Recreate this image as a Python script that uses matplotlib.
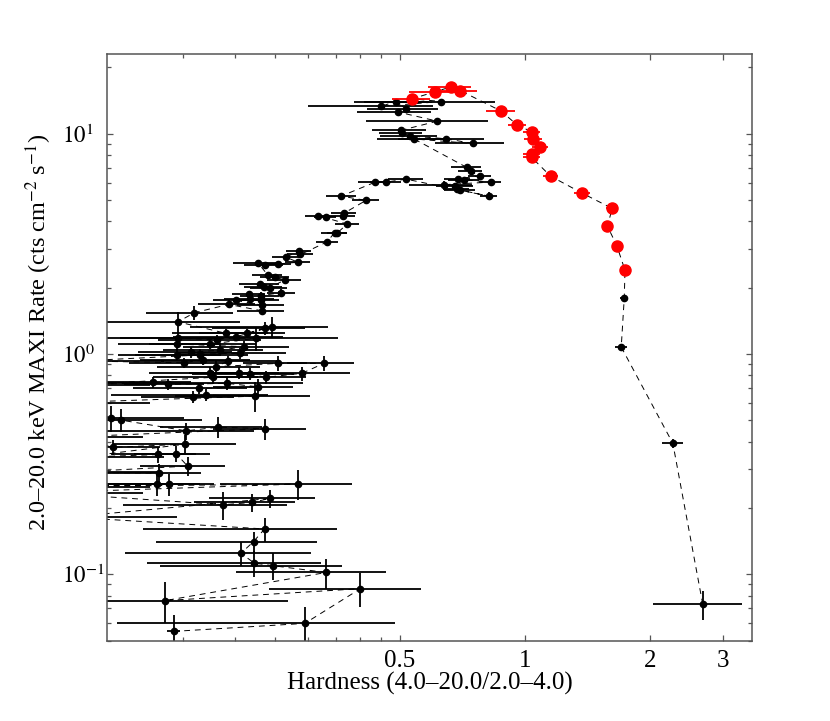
import numpy as np
import matplotlib
matplotlib.use("Agg")
import matplotlib.pyplot as plt
from matplotlib.ticker import FixedLocator, NullFormatter, FixedFormatter

plt.rcParams['font.family'] = ['Liberation Serif', 'DejaVu Serif']
plt.rcParams['mathtext.fontset'] = 'stix'

# hard-state decay tail (start of the dashed track)
tail_h = [2.68, 2.27, 1.705, 1.734]
tail_r = [0.073, 0.393, 1.076, 1.80]
tail_xe = [0.65, 0.13, 0.055, 0.04]
tail_ye = [0.011, 0.02, 0.03, 0.05]

# red points
red_h = [1.741, 1.664, 1.580, 1.621, 1.371, 1.152, 1.038, 1.038, 1.089,
         1.047, 1.038, 0.958, 0.874, 0.698, 0.663, 0.607, 0.535]
red_r = [2.40, 3.10, 3.80, 4.58, 5.38, 6.42, 7.80, 8.08, 8.70,
         9.46, 10.2, 10.95, 12.7, 15.7, 16.3, 15.5, 14.4]
red_xe = [0.03, 0.04, 0.04, 0.05, 0.06, 0.05, 0.05, 0.05, 0.05,
          0.05, 0.05, 0.05, 0.07, 0.07, 0.08, 0.08, 0.056]
red_ye = [0.08, 0.1, 0.1, 0.12, 0.12, 0.15, 0.18, 0.18, 0.2,
          0.2, 0.22, 0.22, 0.25, 0.3, 0.3, 0.3, 0.3]

# remaining black points, in track order
blk_h = [0.629, 0.450, 0.488, 0.516, 0.494, 0.615, 0.502, 0.505, 0.530, 0.645,
         0.748, 0.541, 0.724, 0.740, 0.779, 0.689, 0.713, 0.827, 0.637, 0.680,
         0.685, 0.697, 0.818, 0.517, 0.463, 0.436, 0.361, 0.414,
         0.367, 0.365, 0.331, 0.318, 0.373, 0.353, 0.348, 0.334, 0.288, 0.286,
         0.266, 0.284, 0.254, 0.236, 0.228, 0.240, 0.250, 0.264, 0.243, 0.235,
         0.230, 0.259, 0.231, 0.217, 0.218, 0.231, 0.202, 0.233, 0.233, 0.1935,
         0.160, 0.146,
         0.191, 0.214, 0.236, 0.246, 0.202, 0.181, 0.146, 0.225, 0.1745, 0.145,
         0.210, 0.1845, 0.157, 0.206, 0.145, 0.165, 0.085, 0.151, 0.168, 0.193,
         0.180, 0.254, 0.328, 0.290, 0.2376, 0.218, 0.205, 0.1745, 0.177, 0.080,
         0.1274, 0.1385, 0.192, 0.227, 0.164, 0.159, 0.171, 0.224, 0.075,
         0.101, 0.1066, 0.153, 0.1824, 0.237, 0.080, 0.102, 0.152, 0.085, 0.131,
         0.1447, 0.154, 0.080, 0.1313, 0.130, 0.1388, 0.075, 0.284, 0.070, 0.1875,
         0.220, 0.243, 0.080, 0.236, 0.222, 0.207, 0.223, 0.247, 0.332, 0.136,
         0.4015, 0.295, 0.1427]
blk_r = [14.0, 13.3, 14.0, 13.0, 12.55, 11.4, 10.35, 10.1, 9.76, 9.49,
         9.03, 9.46, 7.03, 6.74, 6.44, 6.24, 6.18, 6.03, 5.87, 5.78,
         5.62, 5.55, 5.21, 6.22, 6.03, 6.03, 5.21, 4.98,
         4.36, 4.24, 4.20, 4.25, 3.89, 3.54, 3.56, 3.23, 2.83, 2.95,
         2.75, 2.61, 2.56, 2.53, 2.58, 2.29, 2.23, 2.17, 2.00, 2.02,
         2.07, 1.90, 1.84, 1.87, 1.78, 1.75, 1.75, 1.665, 1.57, 1.68,
         1.54, 1.40,
         1.24, 1.24, 1.31, 1.33, 1.20, 1.16, 1.18, 1.18, 1.11, 1.11,
         1.08, 1.04, 1.02, 1.01, 0.99, 0.99, 0.93, 0.913, 0.94, 0.93,
         0.876, 0.907, 0.907, 0.817, 0.784, 0.811, 0.822, 0.822, 0.784, 0.72,
         0.744, 0.728, 0.736, 0.710, 0.698, 0.640, 0.651, 0.644, 0.60,
         0.513, 0.501, 0.448, 0.466, 0.458, 0.42, 0.377, 0.390, 0.34, 0.350,
         0.352, 0.310, 0.29, 0.288, 0.2565, 0.2565, 0.25, 0.257, 0.235, 0.207,
         0.212, 0.221, 0.182, 0.1607, 0.1408, 0.1246, 0.1125, 0.1095, 0.102, 0.076,
         0.0861, 0.0599, 0.0551]
blk_xe = [0.22, 0.15, 0.10, 0.10, 0.10, 0.20, 0.075, 0.06, 0.083, 0.15,
          0.14, 0.10, 0.06, 0.05, 0.05, 0.05, 0.06, 0.05, 0.11, 0.07,
          0.05, 0.06, 0.04, 0.05, 0.04, 0.04, 0.03, 0.03,
          0.025, 0.025, 0.02, 0.022, 0.025, 0.02, 0.025, 0.02, 0.02, 0.02,
          0.02, 0.02, 0.02, 0.025, 0.03, 0.02, 0.02, 0.025, 0.025, 0.025,
          0.025, 0.02, 0.025, 0.02, 0.03, 0.025, 0.025, 0.03, 0.03, 0.03,
          0.038, 0.06,
          0.05, 0.05, 0.06, 0.09, 0.06, 0.05, 0.04, 0.13, 0.05, 0.04,
          0.06, 0.05, 0.04, 0.06, 0.04, 0.05, 0.05, 0.04, 0.05, 0.06,
          0.05, 0.045, 0.06, 0.09, 0.06, 0.06, 0.05, 0.05, 0.05, 0.045,
          0.03, 0.03, 0.10, 0.05, 0.05, 0.04, 0.07, 0.08, 0.05,
          0.05, 0.06, 0.07, 0.05, 0.06, 0.04, 0.03, 0.05, 0.05, 0.03,
          0.03, 0.036, 0.05, 0.035, 0.035, 0.04, 0.05, 0.10, 0.05, 0.08,
          0.06, 0.07, 0.065, 0.116, 0.093, 0.098, 0.10, 0.115, 0.13, 0.133,
          0.16, 0.191, 0.005]
blk_ye = [0.3, 0.3, 0.3, 0.3, 0.3, 0.3, 0.25, 0.25, 0.25, 0.25,
          0.25, 0.25, 0.2, 0.2, 0.2, 0.2, 0.2, 0.2, 0.2, 0.2,
          0.2, 0.2, 0.2, 0.2, 0.2, 0.2, 0.15, 0.15,
          0.12, 0.12, 0.12, 0.12, 0.1, 0.1, 0.1, 0.1, 0.08, 0.08,
          0.08, 0.08, 0.08, 0.08, 0.08, 0.07, 0.07, 0.07, 0.07, 0.07,
          0.07, 0.07, 0.07, 0.07, 0.07, 0.07, 0.07, 0.07, 0.07, 0.07,
          0.12, 0.15,
          0.06, 0.06, 0.09, 0.15, 0.06, 0.06, 0.08, 0.15, 0.06, 0.06,
          0.06, 0.06, 0.06, 0.06, 0.06, 0.06, 0.06, 0.05, 0.05, 0.05,
          0.05, 0.07, 0.07, 0.06, 0.05, 0.05, 0.05, 0.05, 0.05, 0.05,
          0.04, 0.04, 0.05, 0.06, 0.04, 0.04, 0.04, 0.10, 0.05,
          0.07, 0.06, 0.04, 0.05, 0.05, 0.04, 0.03, 0.04, 0.03, 0.03,
          0.03, 0.03, 0.03, 0.03, 0.03, 0.03, 0.03, 0.04, 0.03, 0.03,
          0.02, 0.02, 0.02, 0.02, 0.015, 0.015, 0.015, 0.015, 0.016, 0.016,
          0.015, 0.011, 0.01]

x_major = [0.5, 1, 2, 3]
x_labels = ['0.5', '1', '2', '3']
x_minor = [0.15, 0.2, 0.25, 0.3, 0.35, 0.4, 0.45]
y_major = [0.1, 1, 10]
y_labels = ['$10^{-1}$', '$10^{0}$', '$10^{1}$']

fig = plt.figure(figsize=(8.3, 7.21), dpi=100)
ax = fig.add_axes([0.1293, 0.1114, 0.7767, 0.8137])

track_h = tail_h + red_h + blk_h
track_r = tail_r + red_r + blk_r
ax.plot(track_h, track_r, color='k', lw=0.7, ls=(0, (6, 5)), zorder=1)

ax.errorbar(tail_h + blk_h, tail_r + blk_r, xerr=tail_xe + blk_xe, yerr=tail_ye + blk_ye,
            fmt='o', color='k', ms=4.5, elinewidth=1.3, capsize=0, zorder=2)
ax.errorbar(red_h, red_r, xerr=red_xe, yerr=red_ye, fmt='o', color='red',
            ms=8, elinewidth=1.3, capsize=0, zorder=3)

ax.set_xscale('log')
ax.set_yscale('log')
ax.set_xlim(0.0987, 3.52)
ax.set_ylim(0.05, 23)

ax.xaxis.set_major_locator(FixedLocator(x_major))
ax.xaxis.set_major_formatter(FixedFormatter(x_labels))
ax.xaxis.set_minor_locator(FixedLocator(x_minor))
ax.xaxis.set_minor_formatter(NullFormatter())
ax.yaxis.set_major_locator(FixedLocator(y_major))
ax.yaxis.set_major_formatter(FixedFormatter(y_labels))

for s in ax.spines.values():
    s.set_color('#555555')
    s.set_linewidth(1.1)
ax.tick_params(which='both', direction='in', top=True, right=True,
               color='#555555', width=0.9)
ax.tick_params(which='major', length=4.3)
ax.tick_params(which='minor', length=2.6)
ax.tick_params(axis='x', labelsize=18, pad=7)
ax.tick_params(axis='y', labelsize=16.5, pad=32.5)
plt.setp(ax.get_yticklabels(), ha='left')

ax.set_xlabel('Hardness (4.0\u201320.0/2.0\u20134.0)', fontsize=18, labelpad=0)
ax.set_ylabel('2.0\u201320.0 keV MAXI Rate (cts cm$^{-2}$ s$^{-1}$)', fontsize=17.5, labelpad=6)
ax.yaxis.label.set_y(0.525)

fig.savefig('out.png', dpi=100)
